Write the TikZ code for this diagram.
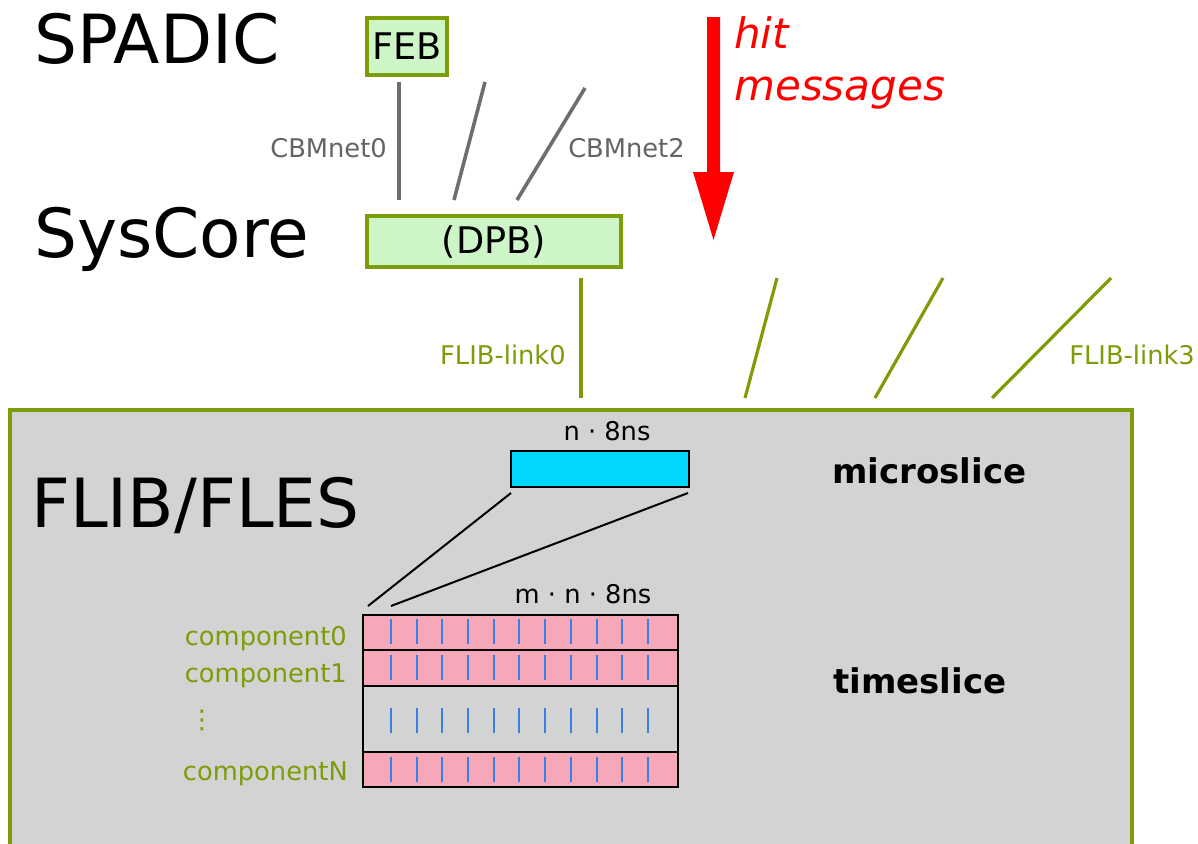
\documentclass[tikz,border=0pt]{standalone}
\usepackage{fontspec}
\setmainfont{DejaVu Sans}
\definecolor{boxgreen}{RGB}{205,245,200}
\definecolor{olivec}{RGB}{124,156,8}
\definecolor{flibgray}{RGB}{211,211,211}
\definecolor{linegray}{RGB}{110,110,110}
\definecolor{labelgray}{RGB}{100,100,100}
\definecolor{cyanms}{RGB}{0,216,255}
\definecolor{pinkts}{RGB}{247,168,184}
\definecolor{tickblue}{RGB}{55,128,232}
\newcommand{\fsHuge}{\fontsize{50.8pt}{58pt}\selectfont}
\newcommand{\fsFles}{\fontsize{50.8pt}{60pt}\selectfont}
\newcommand{\fsBox}{\fontsize{27.5pt}{32pt}\selectfont}
\newcommand{\fsHit}{\fontsize{31.5pt}{38pt}\selectfont}
\newcommand{\fsSmall}{\fontsize{19.3pt}{23pt}\selectfont}
\newcommand{\fsBold}{\fontsize{25.5pt}{30pt}\selectfont\bfseries}
\begin{document}
\begin{tikzpicture}[x=0.75pt,y=-0.75pt,
  greenbox/.style={draw=olivec,fill=boxgreen,line width=2.4pt,inner sep=0pt,font=\fsBox},
  cbmline/.style={draw=linegray,line width=2.7pt},
  flibline/.style={draw=olivec,line width=2.4pt},
  biglabel/.style={anchor=base west,inner sep=0pt,font=\fsHuge},
  cbmlabel/.style={inner sep=0pt,font=\fsSmall,text=labelgray},
  oltext/.style={inner sep=0pt,font=\fsSmall,text=olivec},
  blacktext/.style={inner sep=0pt,font=\fsSmall},
  boldlabel/.style={anchor=base west,inner sep=0pt,font=\fsBold},
  tsrow/.style={draw=black,line width=2.2pt,inner sep=0pt,minimum width=236.25pt},
  tick/.style={draw=tickblue,line width=1.5pt},
  zoomline/.style={draw=black,line width=1.5pt}]
\clip (0,0) rectangle (1198,843);
\fill[white] (0,0) rectangle (1198,843);

% FLIB/FLES container
\node[draw=olivec,fill=flibgray,line width=2.4pt,minimum width=841.5pt,minimum height=367.5pt,inner sep=0pt] (flib) at (571,655) {};

% big labels
\node[biglabel] (spadic) at (34,63) {SPADIC};
\node[biglabel] (syscore) at (34,257) {SysCore};
\node[biglabel,font=\fsFles] (fles) at (31,527) {FLIB/FLES};

% boxes
\node[greenbox,minimum width=60pt,minimum height=42.75pt] (feb) at (407,46.5) {FEB};
\node[greenbox,minimum width=190.5pt,minimum height=38.25pt] (dpb) at (494,241.5) {(DPB)};

% CBMnet lines
\coordinate (c0t) at (399,82);  \coordinate (c0b) at (399,200);
\coordinate (c1t) at (485,82);  \coordinate (c1b) at (454,200);
\coordinate (c2t) at (585,88);  \coordinate (c2b) at (517,200);
\draw[cbmline] (c0t) -- (c0b);
\draw[cbmline] (c1t) -- (c1b);
\draw[cbmline] (c2t) -- (c2b);
\node[cbmlabel,anchor=base east] (cbm0) at (387,157) {CBMnet0};
\node[cbmlabel,anchor=base west] (cbm2) at (568,157) {CBMnet2};

% hit messages arrow
\fill[red] (707,17) -- (720,17) -- (720,172) -- (734,172) -- (713.5,240) -- (693,172) -- (707,172) -- cycle;
\node[anchor=base west,inner sep=0pt,font=\fsHit\itshape,text=red] (hit) at (734,48) {hit};
\node[anchor=base west,inner sep=0pt,font=\fsHit\itshape,text=red] (msg) at (734,100) {messages};

% FLIB links
\coordinate (f0t) at (581,278);  \coordinate (f0b) at (581,398);
\coordinate (f1t) at (777,278);  \coordinate (f1b) at (745,398);
\coordinate (f2t) at (943,278);  \coordinate (f2b) at (875,398);
\coordinate (f3t) at (1111,278); \coordinate (f3b) at (992,398);
\draw[flibline] (f0t) -- (f0b);
\draw[flibline] (f1t) -- (f1b);
\draw[flibline] (f2t) -- (f2b);
\draw[flibline] (f3t) -- (f3b);
\node[oltext,anchor=base east] (fl0) at (566,364) {FLIB-link0};
\node[oltext,anchor=base west] (fl3) at (1069,364) {FLIB-link3};

% microslice
\node[draw=black,fill=cyanms,line width=1.6pt,minimum width=133.5pt,minimum height=27pt,inner sep=0pt] (ms) at (600,469) {};
\node[blacktext,anchor=base] (mslen) at (607,440) {n · 8ns};
\node[boldlabel] (mslabel) at (832,483) {microslice};

% timeslice rows
\node[tsrow,fill=pinkts,minimum height=26.25pt] (r0) at (520.5,632.5) {};
\node[tsrow,fill=pinkts,minimum height=27pt] (r1) at (520.5,668) {};
\node[tsrow,fill=flibgray,minimum height=49.5pt] (rd) at (520.5,719) {};
\node[tsrow,fill=pinkts,minimum height=26.25pt] (rn) at (520.5,769.5) {};
\foreach \k in {0,...,10}{
  \pgfmathsetmacro{\tx}{round(391+25.7*\k)}
  \draw[tick] (\tx,619) -- (\tx,644);
  \draw[tick] (\tx,655) -- (\tx,680);
  \draw[tick] (\tx,708) -- (\tx,733);
  \draw[tick] (\tx,757) -- (\tx,782);
}
\node[blacktext,anchor=base] (tslen) at (583,603) {m · n · 8ns};
\node[boldlabel] (tslabel) at (833,693) {timeslice};

% zoom lines
\coordinate (z1a) at (511,493); \coordinate (z1b) at (368,606);
\coordinate (z2a) at (688,493); \coordinate (z2b) at (391,606);
\draw[zoomline] (z1a) -- (z1b);
\draw[zoomline] (z2a) -- (z2b);

% component labels
\node[oltext,anchor=base east] (comp0) at (347,645) {component0};
\node[oltext,anchor=base east] (comp1) at (347,682) {component1};
\node[oltext] (compdots) at (202,720) {⋮};
\node[oltext,anchor=base east] (compn) at (348,780) {componentN};
\end{tikzpicture}
\end{document}
